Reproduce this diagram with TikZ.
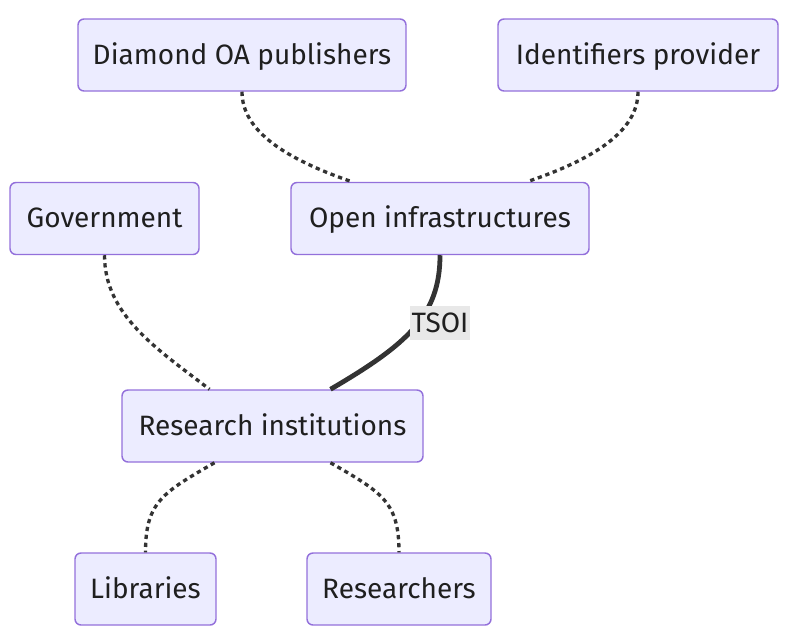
\documentclass[tikz,border=0pt]{standalone}
\usepackage{fontspec}
\setmainfont{Fira Sans}
\usetikzlibrary{calc}
\definecolor{nodefill}{HTML}{ECECFF}
\definecolor{nodeline}{HTML}{9370DB}
\definecolor{edgecol}{HTML}{333333}
\definecolor{lblbg}{HTML}{E8E8E8}
\tikzset{
  box/.style={draw=nodeline, fill=nodefill, line width=1.1pt, rounded corners=4.5pt,
    minimum height=54pt, inner sep=0pt, text height=16.5pt, text depth=2.5pt,
    font=\fontsize{21}{25}\selectfont, text=black!88},
  dotedge/.style={draw=edgecol, line width=2.5pt, dash pattern=on 3.2pt off 2.8pt},
  thickedge/.style={draw=edgecol, line width=3.6pt},
  lbl/.style={fill=lblbg, inner sep=0pt, text height=16.5pt, text depth=2.5pt,
    font=\fontsize{21}{25}\selectfont, text=black!88}
}
\begin{document}
\begin{tikzpicture}[x=0.75pt,y=-0.75pt]
\useasboundingbox (0,0) rectangle (804,632);
\node[box, minimum width=246pt] (dia) at (242,55) {Diamond OA publishers};
\node[box, minimum width=210pt] (ids) at (638,55) {Identifiers provider};
\node[box, minimum width=141.75pt] (gov) at (104.5,218.5) {Government};
\node[box, minimum width=223.5pt] (oi) at (440,218.5) {Open infrastructures};
\node[box, minimum width=225.75pt] (ri) at (272.5,426) {Research institutions};
\node[box, minimum width=105.75pt] (lib) at (145.5,589) {Libraries};
\node[box, minimum width=138pt] (res) at (399,589) {Researchers};

\draw[dotedge] (dia.south) .. controls ($(dia.south)+(0,39)$) and ($(oi.north)+(-155,-23)$) .. ($(oi.north)+(-88,0)$);
\draw[dotedge] (ids.south) .. controls ($(ids.south)+(0,39)$) and ($(oi.north)+(155,-23)$) .. ($(oi.north)+(87,0)$);
\draw[dotedge] (gov.south) .. controls ($(gov.south)+(0,60)$) and ($(ri.north)+(-115,-40)$) .. ($(ri.north)+(-63,0)$);
\draw[dotedge] ($(ri.south)+(-58,0)$) .. controls ($(ri.south)+(-110,30)$) and ($(lib.north)+(0,-50)$) .. (lib.north);
\draw[dotedge] ($(ri.south)+(58,0)$) .. controls ($(ri.south)+(110,30)$) and ($(res.north)+(0,-50)$) .. (res.north);
\draw[thickedge] (oi.south) .. controls ($(oi.south)+(0,60)$) and ($(ri.north)+(135,-45)$) .. ($(ri.north)+(58,0)$);
\node[lbl, minimum width=45pt, minimum height=26pt] (tsoi) at (440,323) {TSOI};
\end{tikzpicture}
\end{document}
